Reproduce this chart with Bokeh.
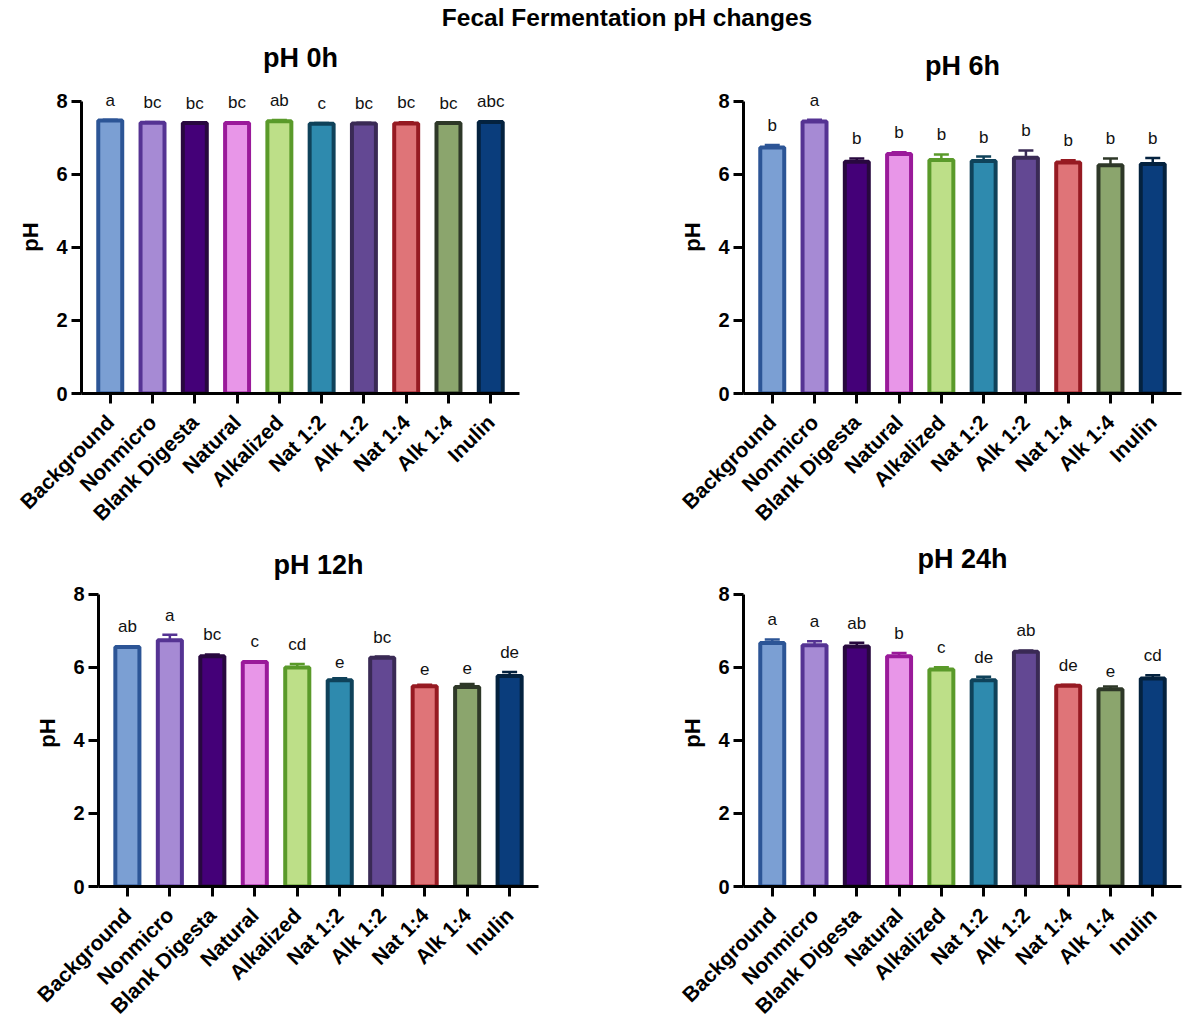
from math import pi

from bokeh.core.properties import value
from bokeh.embed import file_html
from bokeh.layouts import column, row
from bokeh.models import ColumnDataSource, Div, FactorRange, FixedTicker, Range1d
from bokeh.plotting import figure
from bokeh.resources import INLINE

FONT = "Liberation Sans"

groups = ["Background", "Nonmicro", "Blank Digesta", "Natural", "Alkalized",
          "Nat 1:2", "Alk 1:2", "Nat 1:4", "Alk 1:4", "Inulin"]

fill_colors = ["#7B9FD3", "#A68AD4", "#440078", "#E896E8", "#BDDF88",
               "#2E8AAE", "#634893", "#DF7478", "#8BA56D", "#0A3D7C"]
edge_colors = ["#2C5596", "#553393", "#28083F", "#9A1A9A", "#5A9A2A",
               "#0F425A", "#3A2A55", "#961A22", "#2E3828", "#04223F"]

# mean pH and SD per group at each sampling time, with significance letters
ph_0h = [7.48, 7.42, 7.41, 7.41, 7.46, 7.39, 7.40, 7.40, 7.41, 7.44]
sd_0h = [0.02, 0.02, 0.01, 0.02, 0.03, 0.02, 0.02, 0.03, 0.01, 0.02]
letters_0h = ["a", "bc", "bc", "bc", "ab", "c", "bc", "bc", "bc", "abc"]

ph_6h = [6.74, 7.45, 6.35, 6.56, 6.40, 6.37, 6.46, 6.33, 6.25, 6.29]
sd_6h = [0.07, 0.05, 0.09, 0.05, 0.15, 0.12, 0.20, 0.06, 0.19, 0.16]
letters_6h = ["b", "a", "b", "b", "b", "b", "b", "b", "b", "b"]

ph_12h = [6.55, 6.74, 6.30, 6.14, 5.99, 5.64, 6.26, 5.48, 5.46, 5.76]
sd_12h = [0.02, 0.15, 0.05, 0.02, 0.10, 0.06, 0.03, 0.04, 0.08, 0.11]
letters_12h = ["ab", "a", "bc", "c", "cd", "e", "bc", "e", "e", "de"]

ph_24h = [6.66, 6.60, 6.57, 6.30, 5.94, 5.64, 6.42, 5.49, 5.40, 5.69]
sd_24h = [0.10, 0.11, 0.10, 0.09, 0.06, 0.10, 0.04, 0.03, 0.07, 0.09]
letters_24h = ["a", "a", "ab", "b", "c", "de", "ab", "de", "e", "cd"]

PX_PER_UNIT = 36.5


def panel(title, means, sds, letters, y_end, frame_width,
          left, right, top, bottom, title_gap, title_valign):
    tops = [m + s for m, s in zip(means, sds)]
    src = ColumnDataSource(dict(group=groups, ph=means, top=tops,
                                fill=fill_colors, edge=edge_colors,
                                letter=letters))
    p = figure(x_range=FactorRange(*groups, range_padding=0.036),
               y_range=Range1d(0, y_end),
               frame_width=frame_width,
               frame_height=round(y_end * PX_PER_UNIT),
               min_border_left=left, min_border_right=right,
               min_border_top=top, min_border_bottom=bottom,
               output_backend="svg", toolbar_location=None, tools="",
               margin=0)
    p.title.text = title
    p.title.align = "center"
    p.title.vertical_align = title_valign
    p.title.text_font = FONT
    p.title.text_font_size = "27px"
    p.title.text_font_style = "bold"
    p.title.text_color = "#000000"
    if "standoff" in p.title.properties():
        p.title.standoff = title_gap

    p.vbar(x="group", top="ph", bottom=0, width=0.567, source=src,
           fill_color="fill", line_color="edge", line_width=4)
    p.segment(x0="group", y0="ph", x1="group", y1="top", source=src,
              line_color="edge", line_width=2.5)
    p.scatter(x="group", y="top", marker="dash", size=15, source=src,
              line_color="edge", line_width=2.5)
    p.text(x="group", y="top", text="letter", source=src,
           text_align="center", text_baseline="bottom", y_offset=-10,
           text_font=value(FONT), text_font_size="17px",
           text_color="#111111")

    p.yaxis.ticker = FixedTicker(ticks=[0, 2, 4, 6, 8])
    p.yaxis.bounds = (0, 8)
    p.yaxis.axis_label = "pH"
    p.yaxis.axis_label_text_font = FONT
    p.yaxis.axis_label_text_font_size = "22px"
    p.yaxis.axis_label_text_font_style = "bold"
    p.yaxis.axis_label_text_color = "#000000"
    p.yaxis.axis_label_standoff = 10

    p.axis.axis_line_width = 3
    p.axis.axis_line_color = "#000000"
    p.axis.major_tick_line_width = 3
    p.axis.major_tick_line_color = "#000000"
    p.axis.major_tick_out = 10
    p.axis.major_tick_in = 0
    p.axis.minor_tick_line_color = None
    p.axis.major_label_text_font = FONT
    p.axis.major_label_text_font_style = "bold"
    p.axis.major_label_text_color = "#000000"
    p.yaxis.major_label_text_font_size = "20px"
    p.yaxis.major_label_standoff = 4
    p.xaxis.major_label_text_font_size = "21px"
    p.xaxis.major_label_orientation = pi / 4
    p.xaxis.major_label_standoff = 15

    p.grid.visible = False
    p.outline_line_color = None
    p.background_fill_color = "white"
    p.border_fill_color = "white"
    return p


p0 = panel("pH 0h", ph_0h, sd_0h, letters_0h, 8.575, 438, 81, 72, 44, 142, 12, "top")
p6 = panel("pH 6h", ph_6h, sd_6h, letters_6h, 8.575, 438, 152, 1, 44, 142, 0, "bottom")
p12 = panel("pH 12h", ph_12h, sd_12h, letters_12h, 8.4, 440, 98, 53, 44, 142, 0, "bottom")
p24 = panel("pH 24h", ph_24h, sd_24h, letters_24h, 8.4, 438, 152, 1, 44, 142, 12, "bottom")

header = Div(
    text=("<div style=\"width:1182px;box-sizing:border-box;padding-left:72px;"
          "text-align:center;font:bold 24.5px 'Liberation Sans';"
          "line-height:36px;color:#000\">Fecal Fermentation pH changes</div>"),
    width=1182, height=36, margin=0)

page = column(header, row(p0, p6, margin=0), row(p12, p24, margin=0), margin=0)

open("out.html", "w").write(file_html(page, INLINE))
